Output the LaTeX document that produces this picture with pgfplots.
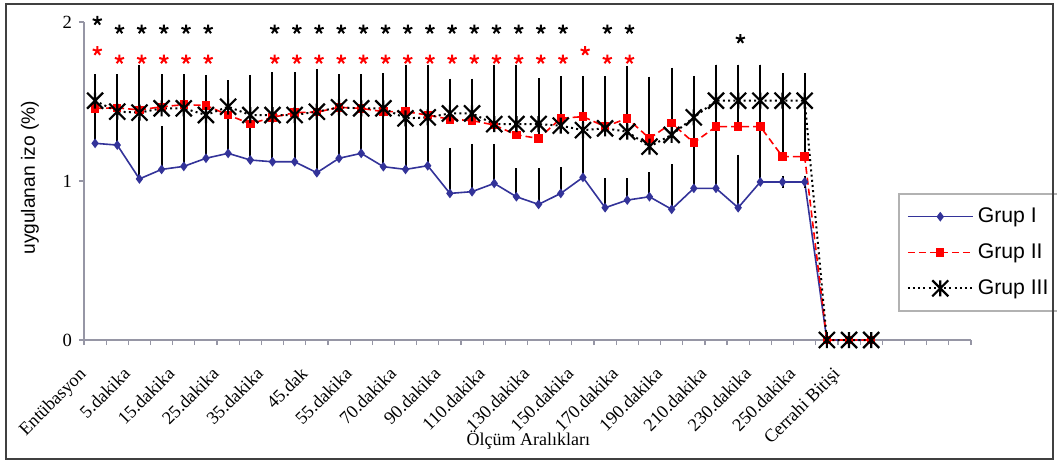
\documentclass[border=0pt]{standalone}
\usepackage{fontspec}
\setmainfont{Liberation Serif}
\newfontfamily\arial{Liberation Sans}
\usepackage{pgfplots}
\pgfplotsset{compat=1.18}
\usepackage{pgfplotstable}

\definecolor{gIblue}{RGB}{51,51,153}
\definecolor{axgray}{RGB}{150,150,165}

\pgfdeclareplotmark{xstar}{%
 \pgfpathmoveto{\pgfqpoint{-\pgfplotmarksize}{-\pgfplotmarksize}}%
 \pgfpathlineto{\pgfqpoint{\pgfplotmarksize}{\pgfplotmarksize}}%
 \pgfpathmoveto{\pgfqpoint{-\pgfplotmarksize}{\pgfplotmarksize}}%
 \pgfpathlineto{\pgfqpoint{\pgfplotmarksize}{-\pgfplotmarksize}}%
 \pgfpathmoveto{\pgfqpoint{0pt}{-\pgfplotmarksize}}%
 \pgfpathlineto{\pgfqpoint{0pt}{\pgfplotmarksize}}%
 \pgfusepathqstroke}

\pgfplotstableread{
x g1 e1 g2 e2 g3 e3
0 1.237 0.398 1.457 0.178 1.505 0.130
1 1.226 0.309 1.460 0.144 1.436 0.199
2 1.013 0.354 1.447 0.157 1.430 0.262
3 1.073 0.233 1.467 0.137 1.457 0.178
4 1.092 0.296 1.480 0.117 1.457 0.178
5 1.143 0.450 1.475 0.118 1.415 0.215
6 1.174 0.423 1.415 0.182 1.467 0.130
7 1.132 0.472 1.360 0.244 1.415 0.215
8 1.121 0.519 1.400 0.240 1.415 0.231
9 1.121 0.372 1.430 0.210 1.415 0.230
10 1.052 0.600 1.433 0.219 1.436 0.231
11 1.143 0.492 1.463 0.172 1.463 0.172
12 1.174 0.367 1.457 0.178 1.457 0.178
13 1.090 0.551 1.436 0.205 1.457 0.184
14 1.073 0.583 1.436 0.220 1.394 0.300
15 1.096 0.564 1.415 0.245 1.400 0.294
16 0.922 0.248 1.388 0.216 1.425 0.179
17 0.933 0.262 1.380 0.224 1.425 0.179
18 0.985 0.210 1.352 0.214 1.358 0.336
19 0.901 0.141 1.290 0.260 1.358 0.336
20 0.853 0.189 1.268 0.288 1.358 0.252
21 0.922 0.126 1.394 0.227 1.348 0.273
22 1.023 0.245 1.405 0.199 1.320 0.301
23 0.832 0.149 1.342 0.262 1.331 0.290
24 0.880 0.101 1.394 0.246 1.310 0.377
25 0.901 0.116 1.268 0.342 1.216 0.402
26 0.822 0.247 1.363 0.310 1.290 0.383
27 0.954 0.656 1.241 0.369 1.400 0.224
28 0.954 0.740 1.342 0.352 1.505 0.189
29 0.832 0.296 1.342 0.352 1.505 0.189
30 0.994 0.700 1.342 0.352 1.505 0.189
31 0.994 0.000 1.153 0.487 1.505 0.135
32 0.994 0.000 1.153 0.487 1.505 0.135
33 0 0 0 0 0 0
34 0 0 0 0 0 0
35 0 0 0 0 0 0
}\data

\pgfplotstableread{
x y
0.1 2.008
1.1 1.954
2.1 1.954
3.1 1.954
4.1 1.954
5.1 1.954
8.1 1.954
9.1 1.954
10.1 1.954
11.1 1.954
12.1 1.954
13.1 1.954
14.1 1.954
15.1 1.954
16.1 1.954
17.1 1.954
18.1 1.954
19.1 1.954
20.1 1.954
21.1 1.954
23.1 1.954
24.1 1.954
29.1 1.893
}\blackstars

\pgfplotstableread{
x y
0.1 1.818
1.1 1.765
2.1 1.765
3.1 1.765
4.1 1.765
5.1 1.765
8.1 1.765
9.1 1.765
10.1 1.765
11.1 1.765
12.1 1.765
13.1 1.765
14.1 1.765
15.1 1.765
16.1 1.765
17.1 1.765
18.1 1.765
19.1 1.765
20.1 1.765
21.1 1.765
22.1 1.818
23.1 1.765
24.1 1.765
}\redstars

\begin{document}
\begin{tikzpicture}
\begin{axis}[
  scale only axis, width=443.5pt, height=159pt,
  xmin=-0.5, xmax=39.5, ymin=0, ymax=2,
  clip=false,
  axis x line=bottom, axis y line=left,
  axis line style={-, axgray, line width=0.6pt},
  tick align=outside,
  xtick={0,2,...,34},
  xticklabels={Entübasyon,5.dakika,15.dakika,25.dakika,35.dakika,45.dak,55.dakika,70.dakika,90.dakika,110.dakika,130.dakika,150.dakika,170.dakika,190.dakika,210.dakika,230.dakika,250.dakika,Cerrahi Bitişi},
  major x tick style={draw=none},
  minor xtick={-0.5,0.5,...,39.5},
  minor tick length=2.5pt,
  major tick length=2.5pt,
  tick style={axgray, line width=0.6pt},
  ytick={0,1,2},
  /pgf/number format/assume math mode=true,
  xticklabel style={font=\fontsize{9.1}{11}\selectfont, inner sep=0pt, xshift=-4pt, yshift=-15pt, rotate=45, anchor=base east},
  yticklabel style={font=\fontsize{9.3}{11}\selectfont},
  every axis y label/.style={at={(axis description cs:-0.061,0.51)}, rotate=90, anchor=center, font=\arial\fontsize{9.6}{11}\selectfont},
  ylabel={uygulanan izo (\%)},
  every axis x label/.style={at={(axis description cs:0.501,-0.3145)}, anchor=center, font=\fontsize{9}{11}\selectfont},
  xlabel={Ölçüm Aralıkları},
  legend style={at={(axis description cs:0.9177,0.4623)}, anchor=north west, draw=black!30, line width=0.8pt, font=\arial\fontsize{10.6}{12}\selectfont, row sep=5pt, inner xsep=4pt, inner ysep=5pt, cells={anchor=west}},
  legend image code/.code={\draw[mark repeat=2,mark phase=2] plot coordinates {(0pt,0pt) (16.25pt,0pt) (32.5pt,0pt)};},
  error bars/error bar style={black, solid, line width=1pt},
  error bars/error mark options={black, solid, line width=1pt, mark size=3pt},
]
\coordinate (O) at (rel axis cs:0,0);
\addplot[gIblue, line width=0.8pt, mark=diamond*, mark size=1.8pt, mark options={solid},
  error bars/.cd, y dir=plus, y explicit]
  table[x=x, y=g1, y error=e1] {\data};
\addlegendentry{Grup I}
\addplot[red, line width=0.8pt, dash pattern=on 3.5pt off 2pt, mark=square*, mark size=1.7pt, mark options={solid},
  error bars/.cd, y dir=plus, y explicit]
  table[x=x, y=g2, y error=e2] {\data};
\addlegendentry{Grup II}
\addplot[black, line width=1pt, dash pattern=on 1pt off 1.6pt, mark=xstar, mark size=4pt, mark options={solid, line width=1.1pt},
  error bars/.cd, y dir=plus, y explicit]
  table[x=x, y=g3, y error=e3] {\data};
\addlegendentry{Grup III}
\addplot[only marks, mark=star, mark size=2.4pt, line width=1pt, black, forget plot] table[x=x,y=y] {\blackstars};
\addplot[only marks, mark=star, mark size=2.4pt, line width=1pt, red, forget plot] table[x=x,y=y] {\redstars};
\end{axis}
\pgfresetboundingbox
\useasboundingbox ([shift={(-42pt,-60.5pt)}]O) rectangle ([shift={(486.5pt,170pt)}]O);
\draw[line width=1pt, black!75] ([shift={(-39pt,-59.5pt)}]O) rectangle ([shift={(484.5pt,168pt)}]O);
\end{tikzpicture}
\end{document}
